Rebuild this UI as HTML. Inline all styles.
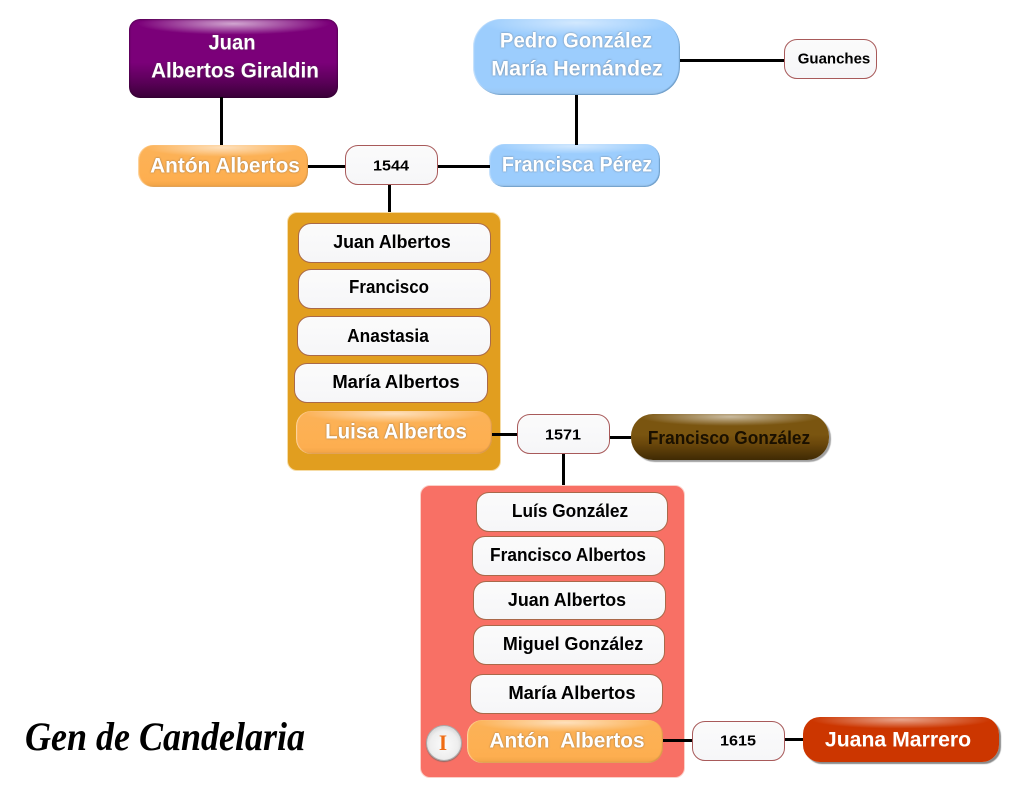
<!DOCTYPE html>
<html><head><meta charset="utf-8">
<style>
html,body{margin:0;padding:0;background:#fff;}
#c{position:relative;width:1033px;height:790px;overflow:hidden;background:#fff;font-family:"Liberation Sans",sans-serif;font-weight:bold;}
.b{position:absolute;box-sizing:border-box;}
.l{position:absolute;background:#000;}
.t{position:absolute;white-space:nowrap;transform:translate(-50%,-50%) scaleX(var(--s,.96));font-size:18px;color:#000;line-height:1;}
.n{font-size:15px;--s:1.08;}
.w{background:linear-gradient(#fbfbfb,#f6f6f8);border:1px solid #a85a5a;border-radius:13px;}
.in{border-color:#a9694a;}
.lb{font-size:21px;color:#fff;text-shadow:0 0 2px rgba(70,70,70,.6);}
.or{background:radial-gradient(ellipse 46% 22% at 50% 6%,rgba(255,255,255,.6),rgba(255,255,255,0)),linear-gradient(#fcb258 0,#fdb052 60%,#fdae50 85%,#f0a346 100%);border-radius:15px;box-shadow:inset 1px 0 1px #fdd9a8,inset -1px -1px 1px #d8974a;}
.bl{background:radial-gradient(ellipse 46% 18% at 50% 5%,rgba(255,255,255,.55),rgba(255,255,255,0)),linear-gradient(#9ccdfd 0,#9ccdfd 90%,#9cc6ee 100%);box-shadow:inset -1px -1px 1px #6e9cc6,inset 1px 0 1px #cfe5fb;}
</style></head><body>
<div id="c">

<div class="b" style="left:129px;top:19px;width:209px;height:79px;border-radius:11px;background:radial-gradient(ellipse 46% 14% at 50% 6%,rgba(255,255,255,.65),rgba(255,255,255,0)),linear-gradient(#7b0079 0,#7b0079 55%,#5a0058 80%,#3a0038 100%);box-shadow:inset 0 0 2px #2a0028"></div>
<div class="b or" style="left:138px;top:145px;width:170px;height:42px"></div>
<div class="b w" style="left:345px;top:145px;width:93px;height:40px"></div>
<div class="b bl" style="left:473px;top:19px;width:207px;height:76px;border-radius:28px"></div>
<div class="b w" style="left:784px;top:39px;width:93px;height:40px"></div>
<div class="b bl" style="left:489px;top:144px;width:171px;height:43px;border-radius:15px"></div>

<div class="b" style="left:287px;top:212px;width:214px;height:259px;border-radius:10px;background:#e19e1f;border:1px solid #f6dca6"></div>
<div class="b w in" style="left:298px;top:223px;width:193px;height:40px"></div>
<div class="b w in" style="left:298px;top:269px;width:193px;height:40px"></div>
<div class="b w in" style="left:297px;top:316px;width:194px;height:40px"></div>
<div class="b w in" style="left:294px;top:363px;width:194px;height:40px"></div>
<div class="b or" style="left:296px;top:411px;width:196px;height:43px"></div>

<div class="b w" style="left:517px;top:414px;width:93px;height:40px"></div>
<div class="b" style="left:631px;top:414px;width:198px;height:46px;border-radius:22px;background:radial-gradient(ellipse 46% 20% at 50% 6%,rgba(255,255,255,.6),rgba(255,255,255,0)),linear-gradient(#7a5510 0,#7a5510 45%,#6a470b 65%,#3f2a04 100%);box-shadow:2px 2px 1px #a0a0a0"></div>

<div class="b" style="left:420px;top:485px;width:265px;height:293px;border-radius:10px;background:#f87065;border:1px solid #fbd0c8"></div>
<div class="b w in" style="left:476px;top:492px;width:192px;height:40px"></div>
<div class="b w in" style="left:472px;top:536px;width:193px;height:40px"></div>
<div class="b w in" style="left:473px;top:581px;width:193px;height:39px"></div>
<div class="b w in" style="left:473px;top:625px;width:192px;height:40px"></div>
<div class="b w in" style="left:470px;top:674px;width:193px;height:40px"></div>
<div class="b or" style="left:467px;top:720px;width:196px;height:43px"></div>
<div class="b" style="left:426px;top:725px;width:36px;height:36px;border-radius:50%;background:radial-gradient(circle at 50% 55%,#fbfbfb 0,#eee 55%,#c4c4c4 90%);border:1px solid #aaa;box-shadow:0 1px 1px #8b6a66"></div>

<div class="b w" style="left:692px;top:721px;width:93px;height:40px"></div>
<div class="b" style="left:803px;top:717px;width:196px;height:45px;border-radius:17px;background:radial-gradient(ellipse 46% 20% at 50% 6%,rgba(255,255,255,.55),rgba(255,255,255,0)),linear-gradient(#cc3600,#cc3600);box-shadow:2px 2px 1px #8a8a8a"></div>

<div class="l" style="left:220px;top:97px;width:3px;height:48px"></div>
<div class="l" style="left:575px;top:95px;width:3px;height:50px"></div>
<div class="l" style="left:680px;top:59px;width:104px;height:3px"></div>
<div class="l" style="left:308px;top:165px;width:37px;height:3px"></div>
<div class="l" style="left:438px;top:165px;width:52px;height:3px"></div>
<div class="l" style="left:388px;top:185px;width:3px;height:27px"></div>
<div class="l" style="left:492px;top:433px;width:25px;height:3px"></div>
<div class="l" style="left:610px;top:436px;width:21px;height:3px"></div>
<div class="l" style="left:562px;top:454px;width:3px;height:31px"></div>
<div class="l" style="left:663px;top:739px;width:29px;height:3px"></div>
<div class="l" style="left:785px;top:738px;width:18px;height:3px"></div>

<div class="t lb" style="left:232px;top:43px">Juan</div>
<div class="t lb" style="left:235px;top:71px;--s:.985">Albertos Giraldin</div>
<div class="t lb" style="left:225px;top:166px;--s:.993">Antón Albertos</div>
<div class="t lb" style="left:576px;top:41px;--s:.966">Pedro González</div>
<div class="t lb" style="left:577px;top:69px;--s:1.02">María Hernández</div>
<div class="t lb" style="left:577px;top:165px;--s:.94">Francisca Pérez</div>
<div class="t n" style="left:391px;top:166px">1544</div>
<div class="t n" style="left:834px;top:59px;--s:1">Guanches</div>
<div class="t" style="left:392px;top:242px;--s:.985">Juan Albertos</div>
<div class="t" style="left:389px;top:287px;--s:.94">Francisco</div>
<div class="t" style="left:388px;top:336px">Anastasia</div>
<div class="t" style="left:396px;top:382px;--s:1.024">María Albertos</div>
<div class="t lb" style="left:396px;top:432px;--s:.977">Luisa Albertos</div>
<div class="t n" style="left:563px;top:435px">1571</div>
<div class="t" style="left:729px;top:438px;color:#1a1000">Francisco González</div>
<div class="t" style="left:570px;top:511px">Luís González</div>
<div class="t" style="left:568px;top:555px">Francisco Albertos</div>
<div class="t" style="left:567px;top:600px;--s:.99">Juan Albertos</div>
<div class="t" style="left:573px;top:644px;--s:.995">Miguel González</div>
<div class="t" style="left:572px;top:693px;--s:1.024">María Albertos</div>
<div class="t lb" style="left:567px;top:741px;--s:.99">Antón&nbsp; Albertos</div>
<div class="t" style="left:443px;top:743px;font-family:'Liberation Serif',serif;font-size:22px;color:#ef6c14">I</div>
<div class="t n" style="left:738px;top:741px">1615</div>
<div class="t lb" style="left:898px;top:740px;--s:1.01;text-shadow:none">Juana Marrero</div>

<svg style="position:absolute;left:0;top:700px" width="330" height="80">
<text x="25" y="50" textLength="280" lengthAdjust="spacingAndGlyphs" font-family="'Liberation Serif',serif" font-style="italic" font-weight="bold" font-size="40" fill="#000">Gen de Candelaria</text>
</svg>
</div>
</body></html>
